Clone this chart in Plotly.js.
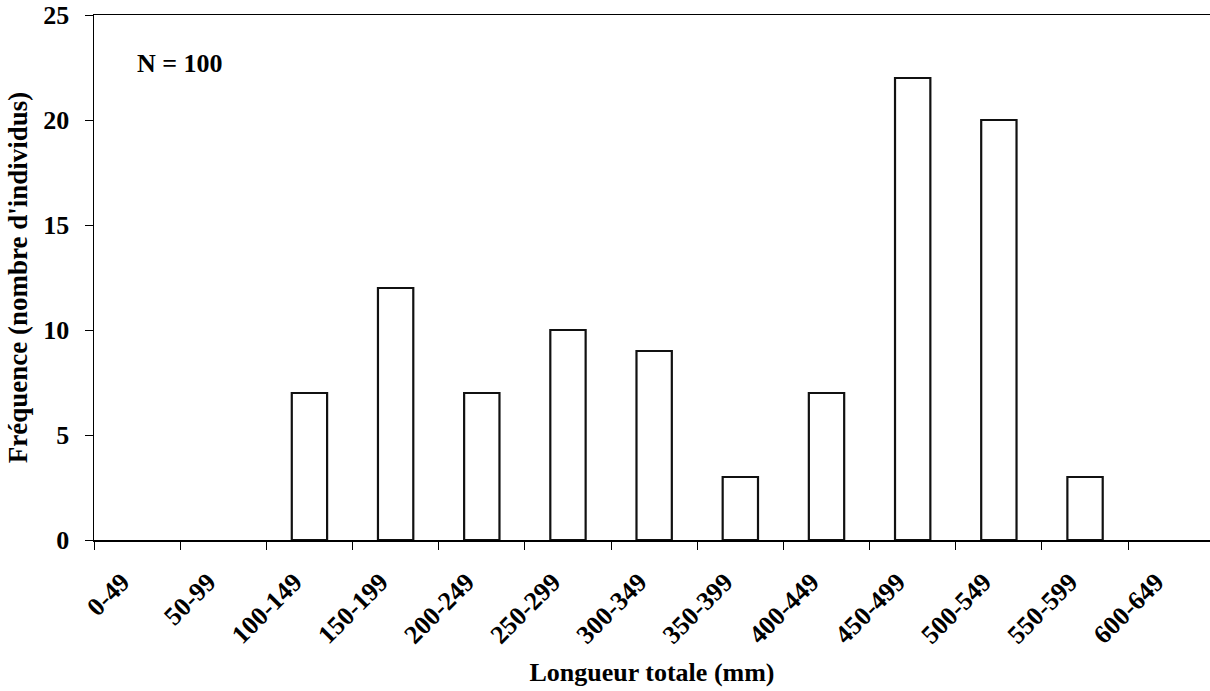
<!DOCTYPE html>
<html>
<head>
<meta charset="utf-8">
<script src="https://cdn.plot.ly/plotly-3.0.1.min.js"></script>
<style>
  html, body { margin: 0; padding: 0; background: #fff; }
  #chart { width: 1210px; height: 691px; }
</style>
</head>
<body>
<div id="chart"></div>
<script>
// Length classes (mm) and number of individuals in each class
const classes = ["0-49", "50-99", "100-149", "150-199", "200-249", "250-299", "300-349",
                 "350-399", "400-449", "450-499", "500-549", "550-599", "600-649"];
const counts = [0, 0, 7, 12, 7, 10, 9, 3, 7, 22, 20, 3, 0];
const yTicks = [0, 5, 10, 15, 20, 25];
const totalN = counts.reduce((a, b) => a + b, 0);

const serif = "'Liberation Serif', 'Times New Roman', serif";

// Empty classes get no outline so nothing is drawn on the baseline
const outlineWidths = counts.map(c => (c > 0 ? 2.2 : 0));

const trace = {
  type: "bar",
  x: classes,
  y: counts,
  marker: { color: "#ffffff", line: { color: "#111111", width: outlineWidths } },
  hoverinfo: "x+y"
};

const layout = {
  width: 1210,
  height: 691,
  margin: { l: 94, r: 0, t: 15, b: 151 },
  paper_bgcolor: "#ffffff",
  plot_bgcolor: "#ffffff",
  bargap: 0.59,
  showlegend: false,
  font: { family: serif, color: "#000000" },
  xaxis: {
    type: "category",
    range: [-0.5, 12.45],
    tickson: "boundaries",
    ticks: "outside",
    ticklen: 8,
    tickwidth: 1,
    tickcolor: "#000000",
    tickangle: -45,
    ticklabelstandoff: 15,
    ticklabelshift: -15,
    tickfont: { family: serif, size: 26, weight: "bold", color: "#000000" },
    showline: true,
    linecolor: "#000000",
    linewidth: 1.5,
    mirror: true,
    showgrid: false,
    zeroline: false,
    title: {
      text: "Longueur totale (mm)",
      font: { family: serif, size: 26, weight: "bold", color: "#000000" },
      standoff: 14
    }
  },
  yaxis: {
    range: [0, 25],
    tickvals: yTicks,
    ticktext: yTicks.map(String),
    ticks: "outside",
    ticklen: 8,
    tickwidth: 1,
    tickcolor: "#000000",
    tickfont: { family: serif, size: 26, weight: "bold", color: "#000000" },
    ticklabelstandoff: 10,
    showline: true,
    linecolor: "#000000",
    linewidth: 1.5,
    showgrid: false,
    zeroline: false,
    title: {
      text: "Fréquence (nombre d'individus)",
      font: { family: serif, size: 27, weight: "bold", color: "#000000" },
      standoff: 8
    }
  },
  annotations: [{
    xref: "paper", yref: "paper",
    x: 0.037, y: 0.907,
    xanchor: "left", yanchor: "middle",
    showarrow: false,
    text: "N = " + totalN,
    font: { family: serif, size: 26, weight: "bold", color: "#000000" }
  }]
};

Plotly.newPlot("chart", [trace], layout, { displayModeBar: false, staticPlot: true });
</script>
</body>
</html>
